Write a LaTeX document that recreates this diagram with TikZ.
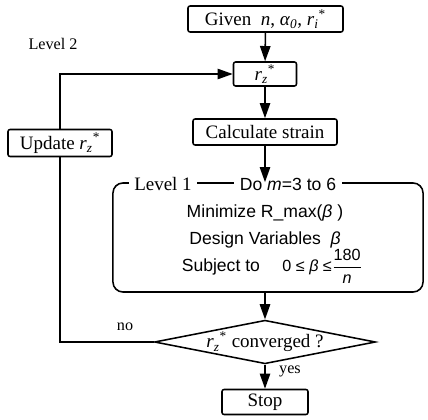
\documentclass[tikz,border=0pt]{standalone}
\usepackage{fontspec}
\setmainfont{Liberation Serif}
\setsansfont{Liberation Sans}
\usetikzlibrary{shapes.geometric, arrows.meta}
\tikzset{every picture/.append style={x=0.025cm, y=-0.025cm}}
\tikzset{
    stepbox/.style={draw, line width=1.1pt, rounded corners=1.5pt, inner sep=0pt,
    	font=\fontsize{13.5}{15}\selectfont},
    loopbox/.style={draw, line width=1.1pt, rounded corners=0.25cm, inner sep=0pt},
    testbox/.style={draw, diamond, line width=1.1pt, inner sep=0pt, aspect=5},
    flow/.style={line width=1.1pt, -{Triangle[length=0.38cm, width=0.26cm]}},
    tag/.style={font=\fontsize{11.5}{13}\selectfont, inner sep=1pt},
    sans/.style={font=\sffamily\fontsize{12.5}{14}\selectfont}
}

\begin{document}
\begin{tikzpicture}
	\useasboundingbox (0,0) rectangle (428,420);
	\node (given) [stepbox, minimum width=3.875cm, minimum height=0.65cm] at (265.5, 19)
		{Given \ \textit{n}, \textit{α}\textsubscript{\textit{0}}, \textit{r}\textsubscript{\textit{i}}\textsuperscript{*}};
	\node (rz) [stepbox, minimum width=1.575cm, minimum height=0.6cm] at (265, 74)
		{\textit{r}\textsubscript{\textit{z}}\textsuperscript{*}};
	\node (strain) [stepbox, minimum width=3.6cm, minimum height=0.65cm] at (265, 132) {Calculate strain};
	\node (level1) [loopbox, minimum width=7.75cm, minimum height=2.725cm] at (268, 237.5) {};
	\node (update) [stepbox, minimum width=2.6cm, minimum height=0.675cm, fill=white] at (60, 143)
		{Update \textit{r}\textsubscript{\textit{z}}\textsuperscript{*}};
	\node (conv) [testbox, minimum width=5.525cm, minimum height=0.975cm] at (265, 342)
		{\fontsize{13.5}{15}\selectfont\textit{r}\textsubscript{\textit{z}}\textsuperscript{*} converged ?};
	\node (stop) [stepbox, minimum width=2.15cm, minimum height=0.625cm] at (265, 402) {Stop};

	% titles and texts
	\node (lv2) [tag] at (53, 44) {Level 2};
	\node (lv1) [tag, fill=white, inner xsep=4pt, font=\fontsize{13.5}{15}\selectfont] at (163, 184) {Level 1};
	\node (do) [tag, fill=white, inner xsep=4pt, sans] at (288, 184) {Do \textit{m}=3 to 6};
	\node (mini) [sans] at (265, 213) {Minimize R\_max(\textit{β} )};
	\node (vars) [sans] at (265, 240) {Design Variables \ \textit{β}};
	\node (subj) [sans] at (272, 266)
		{Subject to \quad {\fontsize{11.5}{13}\selectfont 0 ≤ \textit{β} ≤}%
		$\displaystyle\frac{\mbox{\sffamily\fontsize{11.5}{13}\selectfont 180}}{\mbox{\fontsize{11.5}{13}\selectfont\textit{n}}}$};
	\node (no) [tag] at (125, 327) {no};
	\node (yes) [tag] at (290, 371) {yes};

	\draw (given) edge [flow] (rz); \draw (rz) edge [flow] (strain);
	\draw [flow] (strain) -- (strain |- level1.north);
	\draw [flow] (conv |- level1.south) -- (conv);
	\draw [flow] (conv) -- (stop);
	\draw [line width=1.1pt] (conv.west) -| (update.south);
	\draw [flow] (update.north) |- (rz.west);
\end{tikzpicture}
\end{document}
